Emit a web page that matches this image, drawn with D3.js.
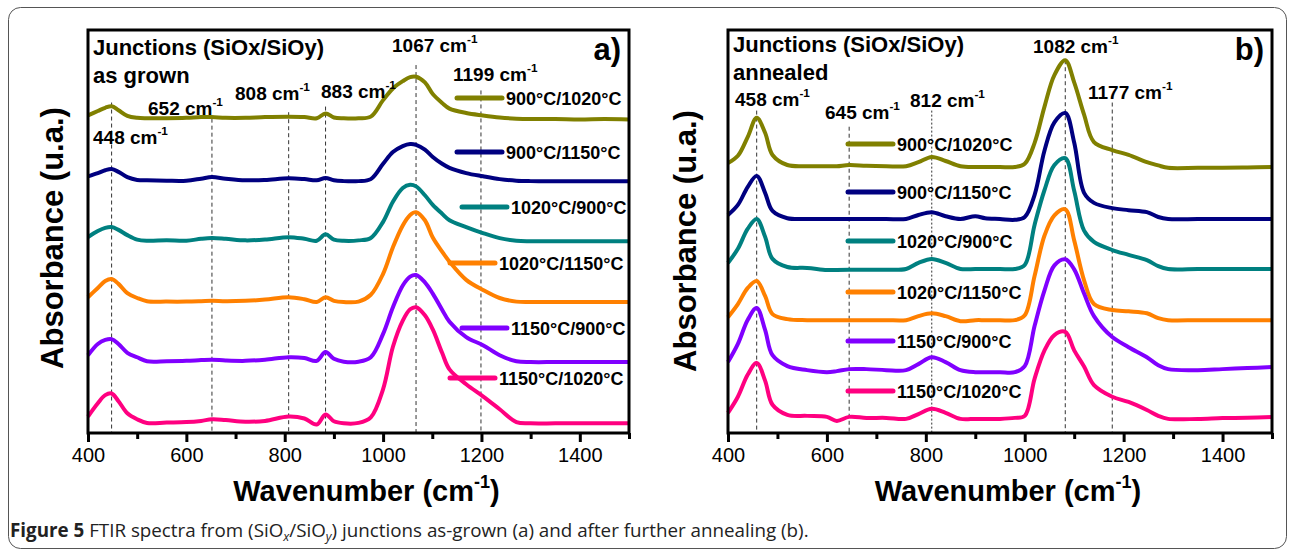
<!DOCTYPE html>
<html>
<head>
<meta charset="utf-8">
<script src="https://cdn.jsdelivr.net/npm/d3@7"></script>
<style>
body { margin: 0; background: #fff; }
svg { display: block; }
</style>
</head>
<body>
<svg width="1290" height="553"></svg>
<script>
// wavenumber grids (cm-1)
var gridA = [400,420,435,448,462,480,500,520,560,600,630,652,680,720,760,808,840,865,883,900,
             920,950,975,1000,1020,1040,1055,1067,1085,1101,1120,1135,1169,1203,1237,1271,1300,1350,1400,1450,1500];
var gridB = [400,420,440,458,475,490,520,560,600,620,645,680,720,760,785,812,840,870,900,920,
             950,980,1000,1020,1040,1060,1082,1100,1120,1140,1177,1210,1247,1270,1290,1350,1400,1450,1500];

var seriesLabels = ["900°C/1020°C","900°C/1150°C","1020°C/900°C","1020°C/1150°C","1150°C/900°C","1150°C/1020°C"];
var seriesColors = ["#808000","#000080","#008080","#ff8000","#8000ff","#ff0080"];

// (a) as grown, absorbance above each curve's own baseline
var grown900_1020 = [0.7,1.8,2.6,3.0,2.0,0.6,0.1,0,0,0.1, 0.3,0.3,0.1,0.1,0.3,0.4,0.3,0,1.2,0.2,
  0,0,0.4,4.5,7.4,9.2,10.2,10.3,8.9,6.0, 3.8,2.4,1.3,0.7,0.2,-0.1,-0.2,-0.2,-0.3,-0.2,-0.3];
var grown900_1150 = [1.2,2.0,2.7,3.0,2.3,1.0,0.3,0.2,0.1,0.1, 0.6,1.0,0.6,0.2,0.3,0.7,0.5,0.2,0.8,0.2,
  0,0,0.5,4.3,7.2,8.7,9.2,9.0,7.8,6.0, 4.3,3.3,2.0,1.2,0.5,0.1,0,0,0,0,0];
var grown1020_900 = [1.0,2.5,3.3,3.5,2.8,1.5,0.4,0.1,0.2,0.1, 0.6,0.8,0.6,0.2,0.4,1.0,0.6,0.1,1.7,0.4,
  0.1,0.2,0.8,4.8,9.8,13.2,14.0,13.6,11.4,9.0, 6.8,5.2,3.5,2.0,0.75,0.1,0,0,0,0,0];
var grown1020_1150 = [1.2,3.5,5.2,5.7,4.5,2.2,1.0,0.2,0.1,0.1, 0.2,0.3,0.2,0.3,0.6,1.2,0.7,0,1.2,0.3,
  0,0.1,1.8,7.0,13.6,19.0,21.6,22.3,20.3,16.0, 12.5,10.0,5.5,3.0,1.0,0.1,0,0,0,0,0];
var grown1150_900 = [1.7,4.5,5.5,5.7,4.5,2.3,1.2,0.2,0.2,0.3, 0.5,0.6,0.4,0.3,0.6,1.2,1.0,0.3,2.5,0.8,
  0.1,0.1,1.2,7.0,13.6,19.0,21.2,21.6,19.8,17.0, 13.0,10.0,6.2,4.2,1.7,0.2,0,0,0,0,0];
var grown1150_1020 = [1.7,5.0,7.0,7.4,5.5,2.5,1.0,0.1,0.2,0.3, 0.6,1.0,0.8,0.4,0.6,1.7,1.2,-0.3,2.2,0.5,
  0,0.1,1.5,8.5,19.0,25.5,28.3,28.8,26.8,23.3, 17.5,13.4,9.7,6.7,3.5,0.3,0,0,0,0,0];
var offsetsA = [78.1, 62.5, 47.6, 32.5, 17.6, 2.4];

// (b) annealed
var ann900_1020 = [1.0,2.8,7.5,12.2,8.5,3.0,0.5,0.2,0.2,0.2, 0.5,0.3,0.2,0.2,1.2,2.5,1.5,0.2,0,0,
  0,0,0.8,6.0,15.0,22.8,26.5,21.0,13.0,6.2, 4.2,3.0,1.2,0.4,-0.2,-0.2,-0.2,-0.1,0];
var ann900_1150 = [1.0,3.5,8.0,10.7,6.5,2.0,0.2,0,0,0, 0,0,0,0,1.0,1.7,0.7,0,0.7,0.2,
  0,-0.2,0.5,6.0,17.0,24.0,26.3,19.0,6.5,4.0, 2.7,2.2,1.7,0.5,0,0,0,0,0];
var ann1020_900 = [1.5,5.0,10.0,12.4,8.0,2.5,0.5,0.25,-0.25,-0.25, -0.2,-0.2,-0.2,0,1.5,2.5,1.5,0,0,0,
  0,0,1.0,11.0,19.6,25.8,27.5,19.4,9.5,6.7, 4.7,3.5,2.2,0.7,0,0,0,0,0];
var ann1020_1150 = [0.75,4.0,8.0,9.7,6.0,1.5,0.25,0,0,0, 0,0,0,0,1.0,1.7,1.0,-0.25,0,0,
  0,0,1.2,11.0,21.0,26.0,27.5,19.8,9.9,4.0, 2.5,2.2,1.7,0.5,0,0,0,0,0];
var ann1150_900 = [2.0,6.5,12.5,15.4,10.0,3.7,1.0,0,-0.5,-0.25, 0.25,0.25,0,0,1.5,3.2,2.0,0,-0.5,-0.5,
  -0.5,-0.5,1.0,11.0,19.8,26.0,27.5,25.0,19.0,13.4, 8.2,5.7,3.2,1.2,0.25,0,0.25,0.5,0.75];
var ann1150_1020 = [1.5,5.5,11.0,13.9,9.5,3.5,1.0,0.75,0.5,-0.5, 0.5,0.25,0.25,0,1.2,2.5,1.5,0,0,0,
  0,0.25,0.75,10.0,17.0,20.8,21.6,17.0,13.0,8.4, 5.5,4.2,2.2,0.75,0,0,0.2,0.3,0.5];
var offsetsB = [66.0, 53.1, 40.7, 28.0, 15.6, 3.5];

// marked bands and the top of each dashed guide (absorbance units)
var peaksA = [448, 652, 808, 883, 1067, 1199];
var peakTopsA = [82, 78, 79.6, 81, 91.3, 85];
var peaksB = [458, 645, 812, 1082, 1177];
var peakTopsB = [80, 76, 80, 92.5, 82];

var majorTicks = [400, 600, 800, 1000, 1200, 1400];
var minorTicks = [500, 700, 900, 1100, 1300, 1500];

var FONT = "'Liberation Sans', Arial, sans-serif";
var svg = d3.select("svg").style("font-family", FONT);

// outer figure border
svg.append("rect")
  .attr("x", 8.5).attr("y", 7.5)
  .attr("width", 1278).attr("height", 541)
  .attr("rx", 12)
  .attr("fill", "none")
  .attr("stroke", "#555")
  .attr("stroke-width", 1);

var yScale = d3.scaleLinear().domain([0, 100]).range([433, 30]);

// text with a "-1" superscript
function cmLabel(g, x, y, num, size) {
  var t = g.append("text")
    .attr("x", x).attr("y", y)
    .attr("font-size", size)
    .attr("font-weight", "bold");
  t.append("tspan").text(num + " cm");
  t.append("tspan").attr("dy", -size * 0.45).attr("font-size", size * 0.62).text("-1");
  return t;
}

function drawPanel(p) {
  var x = d3.scaleLinear().domain([400, 1500]).range([p.left, p.right]);
  var g = svg.append("g");

  // dashed guides
  p.peaks.forEach(function(w, i) {
    g.append("line")
      .attr("x1", x(w)).attr("x2", x(w))
      .attr("y1", yScale(p.peakTops[i])).attr("y2", yScale(0))
      .attr("stroke", "#333")
      .attr("stroke-width", 1)
      .attr("stroke-dasharray", w == 812 ? "2,2" : "4,3");
  });

  // spectra
  p.series.forEach(function(vals, i) {
    var line = d3.line()
      .x(function(d, j) { return x(p.grid[j]); })
      .y(function(d) { return yScale(p.offsets[i] + d); })
      .curve(d3.curveCatmullRom.alpha(0.5));
    g.append("path")
      .datum(vals)
      .attr("d", line)
      .attr("fill", "none")
      .attr("stroke", seriesColors[i])
      .attr("stroke-width", 4)
      .attr("stroke-linejoin", "round");
  });

  // legend
  p.legend.forEach(function(l, i) {
    g.append("line")
      .attr("x1", l[0]).attr("x2", l[0] + 45)
      .attr("y1", l[1]).attr("y2", l[1])
      .attr("stroke", seriesColors[i])
      .attr("stroke-width", 5)
      .attr("stroke-linecap", "round");
    g.append("text")
      .attr("x", l[0] + 49).attr("y", l[1] + 6.5)
      .attr("font-size", 18)
      .attr("font-weight", "bold")
      .text(seriesLabels[i]);
  });

  // frame
  g.append("rect")
    .attr("x", p.left).attr("y", yScale(100))
    .attr("width", p.right - p.left).attr("height", yScale(0) - yScale(100))
    .attr("fill", "none")
    .attr("stroke", "#000")
    .attr("stroke-width", 3);

  // x axis
  var gx = g.append("g")
    .attr("transform", "translate(0," + yScale(0) + ")")
    .call(d3.axisBottom(x).tickValues(majorTicks).tickSize(9).tickPadding(6).tickFormat(d3.format("d")));
  gx.attr("font-family", FONT);
  gx.select(".domain").remove();
  gx.selectAll("line").attr("stroke-width", 3);
  gx.selectAll("text").attr("font-size", 20);

  var gm = g.append("g")
    .attr("transform", "translate(0," + yScale(0) + ")")
    .call(d3.axisBottom(x).tickValues(minorTicks).tickSize(6).tickFormat(""));
  gm.select(".domain").remove();
  gm.selectAll("line").attr("stroke-width", 3);

  // axis titles
  var xt = g.append("text")
    .attr("x", (p.left + p.right) / 2 + 8).attr("y", 501)
    .attr("text-anchor", "middle")
    .attr("font-size", 29)
    .attr("font-weight", "bold");
  xt.append("tspan").text("Wavenumber (cm");
  xt.append("tspan").attr("dy", -13).attr("font-size", 18).text("-1");
  xt.append("tspan").attr("dy", 13).text(")");

  g.append("text")
    .attr("transform", "translate(" + p.ylabX + "," + p.ylabY + ") rotate(-90)")
    .attr("text-anchor", "middle")
    .attr("font-size", 31)
    .attr("font-weight", "bold")
    .text("Absorbance (u.a.)");

  // annotations
  g.append("text").attr("x", p.left + 5).attr("y", p.titleY[0])
    .attr("font-size", 22).attr("font-weight", "bold").text("Junctions (SiOx/SiOy)");
  g.append("text").attr("x", p.left + 5).attr("y", p.titleY[1])
    .attr("font-size", 22).attr("font-weight", "bold").text(p.subtitle);
  p.peakLabels.forEach(function(l, i) {
    cmLabel(g, l[0], l[1], p.peaks[i], 19);
  });
  g.append("text").attr("x", p.right - 8).attr("y", 60)
    .attr("text-anchor", "end")
    .attr("font-size", 31).attr("font-weight", "bold").text(p.tag);
}

drawPanel({
  left: 88, right: 629,
  grid: gridA,
  series: [grown900_1020, grown900_1150, grown1020_900, grown1020_1150, grown1150_900, grown1150_1020],
  offsets: offsetsA,
  peaks: peaksA, peakTops: peakTopsA,
  peakLabels: [[93, 144], [148, 115], [235, 100], [321, 98], [392, 52], [453, 81]],
  legend: [[457, 98], [457, 152], [462, 207], [450, 263], [462, 328], [450, 378]],
  titleY: [55, 83], subtitle: "as grown", tag: "a)",
  ylabX: 63, ylabY: 238
});

drawPanel({
  left: 728, right: 1272,
  grid: gridB,
  series: [ann900_1020, ann900_1150, ann1020_900, ann1020_1150, ann1150_900, ann1150_1020],
  offsets: offsetsB,
  peaks: peaksB, peakTops: peakTopsB,
  peakLabels: [[735, 106], [825, 119], [910, 107], [1033, 53], [1088, 99]],
  legend: [[848, 144], [848, 192], [848, 241], [848, 292], [848, 341], [848, 391]],
  titleY: [52, 80], subtitle: "annealed", tag: "b)",
  ylabX: 696, ylabY: 241
});

// caption
var cap = svg.append("text")
  .attr("x", 10).attr("y", 537)
  .style("font-family", "'Open Sans', 'Noto Sans', sans-serif")
  .style("font-size", "18.8px")
  .attr("fill", "#222");
cap.append("tspan").attr("font-weight", "bold").text("Figure 5");
cap.append("tspan").text(" FTIR spectra from (SiO");
cap.append("tspan").attr("font-style", "italic").attr("font-size", 12.5).attr("dy", 4).text("x");
cap.append("tspan").attr("dy", -4).text("/SiO");
cap.append("tspan").attr("font-style", "italic").attr("font-size", 12.5).attr("dy", 4).text("y");
cap.append("tspan").attr("dy", -4).text(") junctions as-grown (a) and after further annealing (b).");
</script>
</body>
</html>
